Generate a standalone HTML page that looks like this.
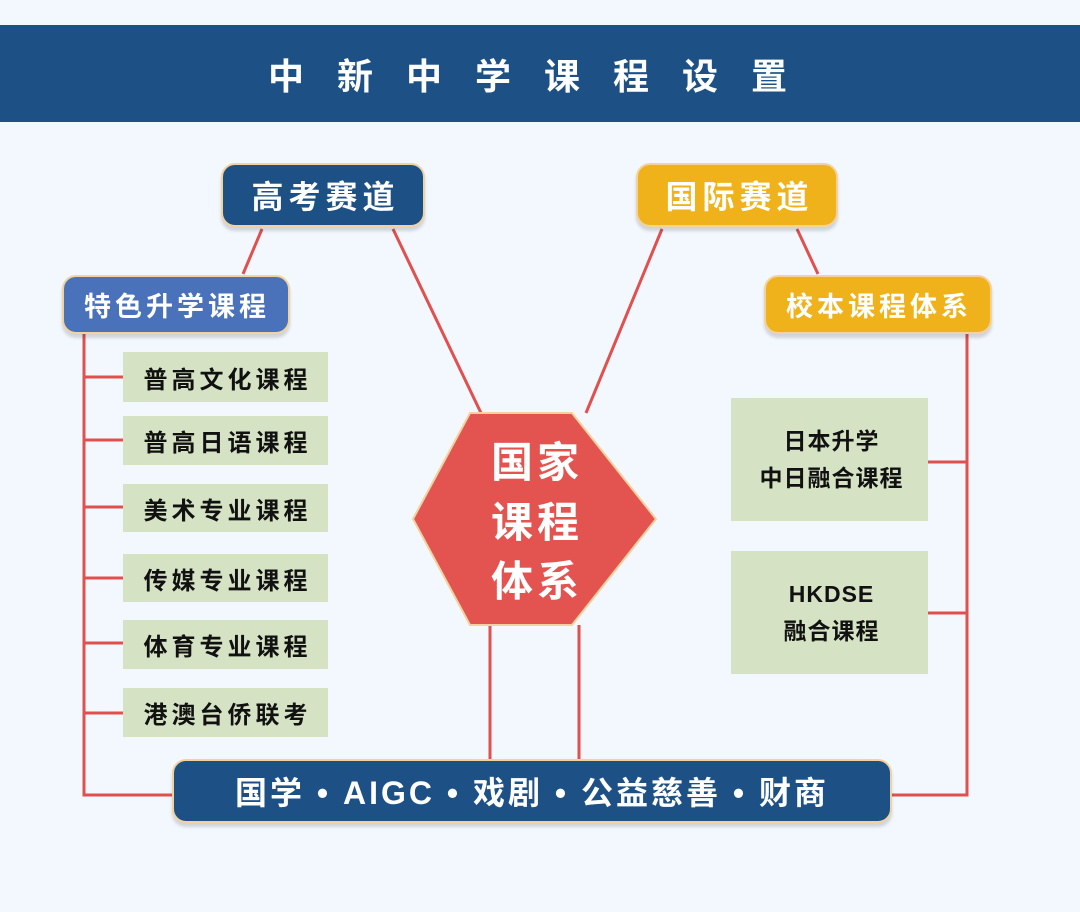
<!DOCTYPE html>
<html><head><meta charset="utf-8"><style>
body{margin:0;width:1080px;height:912px;background:#f3f8fe;position:relative;overflow:hidden;font-family:"Liberation Sans","Noto Sans CJK SC",sans-serif;font-weight:bold}
.a{position:absolute;display:flex;align-items:center;justify-content:center;box-sizing:border-box}
.hdr{left:0;top:25px;width:1080px;height:97px;background:#1d5185;color:#fff;font-size:36px;letter-spacing:33px;padding-left:8px}
.n{border-radius:14px;border:2px solid #f2d3a0;color:#fff;box-shadow:0 4px 3px rgba(0,0,0,.15)}
.db{background:#1d5185}.yl{background:#f0b21a}.bl{background:#4a72ba}
.g{background:#d5e3c4;color:#111;font-size:24px;letter-spacing:4px;padding-left:4px}
.c{text-align:center;line-height:37px;letter-spacing:1px;font-size:23px;padding-left:0}
</style></head><body>
<div class="a hdr">中新中学课程设置</div>
<svg class="a" style="left:0;top:0" width="1080" height="912">
<g stroke="#e0504e" stroke-width="3" fill="none">
<line x1="262" y1="229" x2="243" y2="274"/>
<line x1="393" y1="229" x2="481" y2="413"/>
<line x1="662" y1="229" x2="586" y2="413"/>
<line x1="797" y1="229" x2="818" y2="274"/>
<polyline points="84,334 84,795 172,795"/>
<polyline points="967,334 967,795 892,795"/>
<line x1="84" y1="377" x2="123" y2="377"/>
<line x1="84" y1="440" x2="123" y2="440"/>
<line x1="84" y1="507" x2="123" y2="507"/>
<line x1="84" y1="578" x2="123" y2="578"/>
<line x1="84" y1="643" x2="123" y2="643"/>
<line x1="84" y1="713" x2="123" y2="713"/>
<line x1="928" y1="462" x2="967" y2="462"/>
<line x1="928" y1="613" x2="967" y2="613"/>
<line x1="490" y1="625" x2="490" y2="760"/>
<line x1="579" y1="625" x2="579" y2="760"/>
</g>
<polygon points="470,413 572,413 656,519 572,625 470,625 413,519" fill="#e35450" stroke="#f2d3a0" stroke-width="2"/>
<g fill="#fff" font-size="42" text-anchor="middle" font-family="Liberation Sans,Noto Sans CJK SC,sans-serif" font-weight="bold" letter-spacing="4">
<text x="537" y="477">国家</text>
<text x="537" y="537">课程</text>
<text x="537" y="596">体系</text>
</g>
</svg>
<div class="a n db" style="left:221px;top:163px;width:204px;height:64px;font-size:32px;letter-spacing:5px;padding-left:5px">高考赛道</div>
<div class="a n yl" style="left:636px;top:163px;width:202px;height:64px;font-size:32px;letter-spacing:5px;padding-left:5px">国际赛道</div>
<div class="a n bl" style="left:62px;top:275px;width:228px;height:59px;font-size:27px;letter-spacing:4px;padding-left:2px">特色升学课程</div>
<div class="a n yl" style="left:764px;top:275px;width:228px;height:59px;font-size:27px;letter-spacing:4px;padding-left:2px">校本课程体系</div>
<div class="a g" style="left:123px;top:352px;width:205px;height:50px">普高文化课程</div>
<div class="a g" style="left:123px;top:416px;width:205px;height:49px">普高日语课程</div>
<div class="a g" style="left:123px;top:484px;width:205px;height:48px">美术专业课程</div>
<div class="a g" style="left:123px;top:554px;width:205px;height:48px">传媒专业课程</div>
<div class="a g" style="left:123px;top:620px;width:205px;height:49px">体育专业课程</div>
<div class="a g" style="left:123px;top:688px;width:205px;height:49px">港澳台侨联考</div>
<div class="a g" style="left:731px;top:398px;width:197px;height:123px"><div class="c">日本升学<br>中日融合课程</div></div>
<div class="a g" style="left:731px;top:551px;width:197px;height:123px"><div class="c">HKDSE<br>融合课程</div></div>
<div class="a n db" style="left:172px;top:759px;width:720px;height:64px;font-size:32px;letter-spacing:3px;white-space:pre">国学 • AIGC • 戏剧 • 公益慈善 • 财商</div>
</body></html>
